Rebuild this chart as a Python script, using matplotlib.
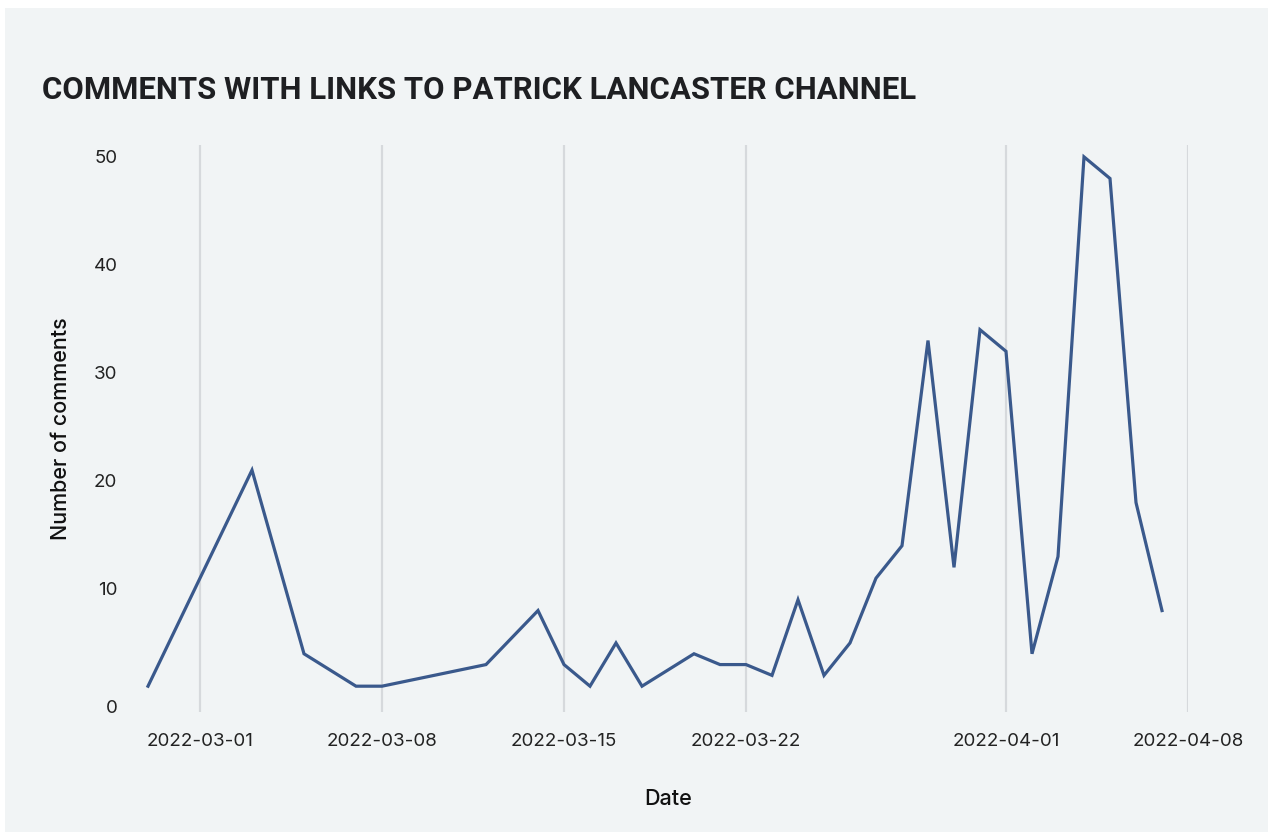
import numpy as np
import pandas as pd
import matplotlib
matplotlib.use("Agg")
import matplotlib.pyplot as plt
import matplotlib.dates as mdates
from matplotlib.patches import Rectangle
from matplotlib.transforms import ScaledTranslation

# daily counts of comments linking to the channel (days with no data are skipped)
dates = [
    "2022-02-27", "2022-03-03", "2022-03-05", "2022-03-07", "2022-03-08",
    "2022-03-12", "2022-03-14", "2022-03-15", "2022-03-16", "2022-03-17",
    "2022-03-18", "2022-03-20", "2022-03-21", "2022-03-22", "2022-03-23",
    "2022-03-24", "2022-03-25", "2022-03-26", "2022-03-27", "2022-03-28",
    "2022-03-29", "2022-03-30", "2022-03-31", "2022-04-01", "2022-04-02",
    "2022-04-03", "2022-04-04", "2022-04-05", "2022-04-06", "2022-04-07",
]
comments = [
    1, 21, 4, 1, 1,
    3, 8, 3, 1, 5,
    1, 4, 3, 3, 2,
    9, 2, 5, 11, 14,
    33, 12, 34, 32, 4,
    13, 50, 48, 18, 8,
]
x_ticks = ["2022-03-01", "2022-03-08", "2022-03-15", "2022-03-22", "2022-04-01", "2022-04-08"]
y_ticks = [0, 10, 20, 30, 40, 50]

BG = "#f1f4f5"
LINE = "#3a598c"
GRID = "#d6d9dc"
TEXT = "#222222"

W, H = 1268, 832
fig = plt.figure(figsize=(W / 100, H / 100), dpi=100, facecolor="white")
fig.patches.append(Rectangle((5 / W, 0), 1, 1 - 8 / H, transform=fig.transFigure,
                             facecolor=BG, edgecolor="none", zorder=-10))

ax = fig.add_axes([148 / W, 1 - 712 / H, (1188 - 148) / W, (712 - 145) / H])
ax.set_facecolor(BG)

d = pd.to_datetime(dates)
ax.plot(d, comments, color=LINE, lw=2.3, solid_joinstyle="miter", clip_on=False, zorder=3)

ax.set_xlim(pd.Timestamp("2022-02-27"), pd.Timestamp("2022-04-08"))
ax.set_ylim(-1.39, 51.1)

ax.set_xticks(pd.to_datetime(x_ticks))
ax.xaxis.set_major_formatter(mdates.DateFormatter("%Y-%m-%d"))
ax.set_yticks(y_ticks)
ax.set_yticklabels([str(v) for v in y_ticks])

ax.grid(axis="x", color=GRID, lw=1.6)
ax.grid(axis="y", visible=False)
ax.set_axisbelow(True)
for s in ax.spines.values():
    s.set_visible(False)

ax.tick_params(axis="both", length=0, labelsize=13.5, labelcolor=TEXT)
ax.tick_params(axis="x", pad=15)
ax.tick_params(axis="y", pad=22)
for lab in ax.get_xticklabels() + ax.get_yticklabels():
    lab.set_fontfamily("Inter")

# bottom label sits a little lower than its tick
lab0 = ax.get_yticklabels()[0]
lab0.set_transform(lab0.get_transform() + ScaledTranslation(0, -0.10, fig.dpi_scale_trans))

ax.set_xlabel("Date", fontsize=15.5, family="Inter", weight="medium", color="#111111", labelpad=28)
ax.set_ylabel("Number of comments", fontsize=15.5, family="Inter", weight="medium",
              color="#111111", labelpad=16)

fig.text(42 / W, 1 - 99 / H, "COMMENTS WITH LINKS TO PATRICK LANCASTER CHANNEL",
         fontsize=22.4, family="Roboto", weight="bold",
         color="#1e1f22", ha="left", va="baseline")

fig.savefig("out.png", dpi=100, facecolor=fig.get_facecolor())
